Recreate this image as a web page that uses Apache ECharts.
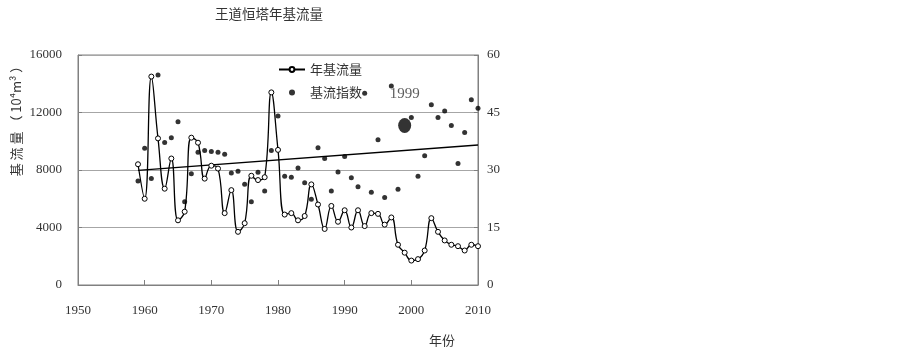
<!DOCTYPE html>
<html>
<head>
<meta charset="utf-8">
<script src="https://cdn.jsdelivr.net/npm/echarts@6/dist/echarts.min.js"></script>
<style>
  html, body { margin: 0; padding: 0; background: #fff; }
  #chart { width: 903px; height: 347px; }
</style>
</head>
<body>
<div id="chart"></div>
<script>
// 王道恒塔年基流量 — 年基流量(左轴) + 基流指数(右轴)

const years = [
  1959, 1960, 1961, 1962, 1963, 1964, 1965, 1966, 1967, 1968,
  1969, 1970, 1971, 1972, 1973, 1974, 1975, 1976, 1977, 1978,
  1979, 1980, 1981, 1982, 1983, 1984, 1985, 1986, 1987, 1988,
  1989, 1990, 1991, 1992, 1993, 1994, 1995, 1996, 1997, 1998,
  1999, 2000, 2001, 2002, 2003, 2004, 2005, 2006, 2007, 2008,
  2009, 2010
];

// 年基流量 (10^4 m^3)
const baseFlow = [
  8400, 6000, 14500, 10200, 6700, 8800, 4500, 5100, 10250, 9900,
  7400, 8300, 8100, 5000, 6600, 3700, 4300, 7600, 7300, 7500,
  13400, 9400, 4900, 5000, 4500, 4800, 7000, 5600, 3900, 5500,
  4400, 5200, 4000, 5200, 4100, 5000, 4950, 4200, 4700, 2800,
  2250, 1700, 1800, 2400, 4650, 3700, 3100, 2800, 2700, 2400,
  2800, 2700
];

// 基流指数 (%)
const baseIndex = [
  27.1, 35.7, 27.8, 54.8, 37.2, 38.4, 42.6, 21.7, 29.0, 34.6,
  35.1, 34.8, 34.6, 34.1, 29.2, 29.7, 26.3, 21.7, 29.4, 24.5,
  35.1, 44.1, 28.4, 28.1, 30.5, 26.7, 22.4, 35.8, 33.0, 24.5,
  29.5, 33.5, 28.0, 25.6, 50.0, 24.2, 37.9, 22.8, 51.9, 25.0,
  41.6, 43.7, 28.4, 33.7, 47.0, 43.7, 45.4, 41.6, 31.7, 39.8,
  48.3, 46.1
];

// 趋势线两端
const trendYears = [1959, 2010];
const trendValues = [7980, 9740];

const leftTicks = [0, 16000, 4000];   // min, max, interval
const rightTicks = [0, 60, 15];
const highlightYear = 1999;

const serif = '"Liberation Serif", "Times New Roman", serif';
const cjk = '"Noto Sans CJK SC", sans-serif';
const plain = v => String(v);

const chart = echarts.init(document.getElementById('chart'));

const flowData = years.map((y, i) => [y, baseFlow[i]]);
const indexData = years.map((y, i) => {
  const item = { value: [y, baseIndex[i]] };
  if (y === highlightYear) {
    item.symbolSize = [13, 15];
    item.label = {
      show: true,
      formatter: String(y),
      position: 'top',
      distance: 16,
      color: '#333',
      fontFamily: serif,
      fontSize: 15
    };
  }
  return item;
});
const trendData = trendYears.map((y, i) => [y, trendValues[i]]);

const option = {
  animation: false,
  backgroundColor: '#fff',
  title: {
    text: '王道恒塔年基流量',
    left: 210,
    top: 2,
    textStyle: { fontFamily: cjk, fontSize: 13.5, fontWeight: 'normal', color: '#333' }
  },
  legend: {
    orient: 'vertical',
    left: 278,
    top: 63,
    padding: 0,
    itemWidth: 26,
    itemHeight: 6,
    itemGap: 10,
    data: ['年基流量', '基流指数'],
    textStyle: { fontFamily: cjk, fontSize: 13, color: '#333' }
  },
  grid: { left: 78, right: 425, top: 55, bottom: 62, show: true, borderColor: '#808080', borderWidth: 1 },
  xAxis: {
    type: 'value',
    min: 1950,
    max: 2010,
    interval: 10,
    axisLine: { lineStyle: { color: '#808080' } },
    axisTick: { inside: true, length: 5, lineStyle: { color: '#808080' } },
    axisLabel: { margin: 19, fontFamily: serif, fontSize: 13, color: '#333', formatter: plain },
    splitLine: { show: false }
  },
  yAxis: [
    {
      type: 'value',
      min: leftTicks[0],
      max: leftTicks[1],
      interval: leftTicks[2],
      axisLine: { show: true, lineStyle: { color: '#808080' } },
      axisTick: { show: true, inside: true, length: 4, lineStyle: { color: '#808080' } },
      axisLabel: { margin: 16, fontFamily: serif, fontSize: 13, color: '#333', formatter: plain },
      splitLine: { show: true, lineStyle: { color: '#a6a6a6', width: 1 } }
    },
    {
      type: 'value',
      min: rightTicks[0],
      max: rightTicks[1],
      interval: rightTicks[2],
      axisLine: { show: true, lineStyle: { color: '#808080' } },
      axisTick: { show: true, inside: true, length: 4, lineStyle: { color: '#808080' } },
      axisLabel: { margin: 9, fontFamily: serif, fontSize: 13, color: '#333', formatter: plain },
      splitLine: { show: false }
    }
  ],
  graphic: [
    {
      type: 'text',
      x: 16,
      y: 118,
      rotation: Math.PI / 2,
      style: {
        text: '基 流 量 （ 10⁴m³ ）',
        font: '13px ' + cjk,
        fill: '#333',
        align: 'center',
        verticalAlign: 'middle'
      }
    },
    {
      type: 'text',
      x: 442,
      y: 340,
      style: {
        text: '年份',
        font: '13px ' + cjk,
        fill: '#333',
        align: 'center',
        verticalAlign: 'middle'
      }
    }
  ],
  series: [
    {
      name: '年基流量',
      type: 'line',
      yAxisIndex: 0,
      data: flowData,
      smooth: 0.45,
      symbol: 'circle',
      symbolSize: 5,
      lineStyle: { color: '#000', width: 1.3 },
      itemStyle: { color: '#fff', borderColor: '#000', borderWidth: 1 },
      z: 3
    },
    {
      name: '基流指数',
      type: 'scatter',
      yAxisIndex: 1,
      data: indexData,
      symbol: 'circle',
      symbolSize: 5,
      itemStyle: { color: '#000' },
      z: 4
    },
    {
      name: '趋势',
      type: 'line',
      yAxisIndex: 0,
      data: trendData,
      symbol: 'none',
      lineStyle: { color: '#000', width: 1.3 },
      z: 2
    }
  ]
};

chart.setOption(option);
</script>
</body>
</html>
